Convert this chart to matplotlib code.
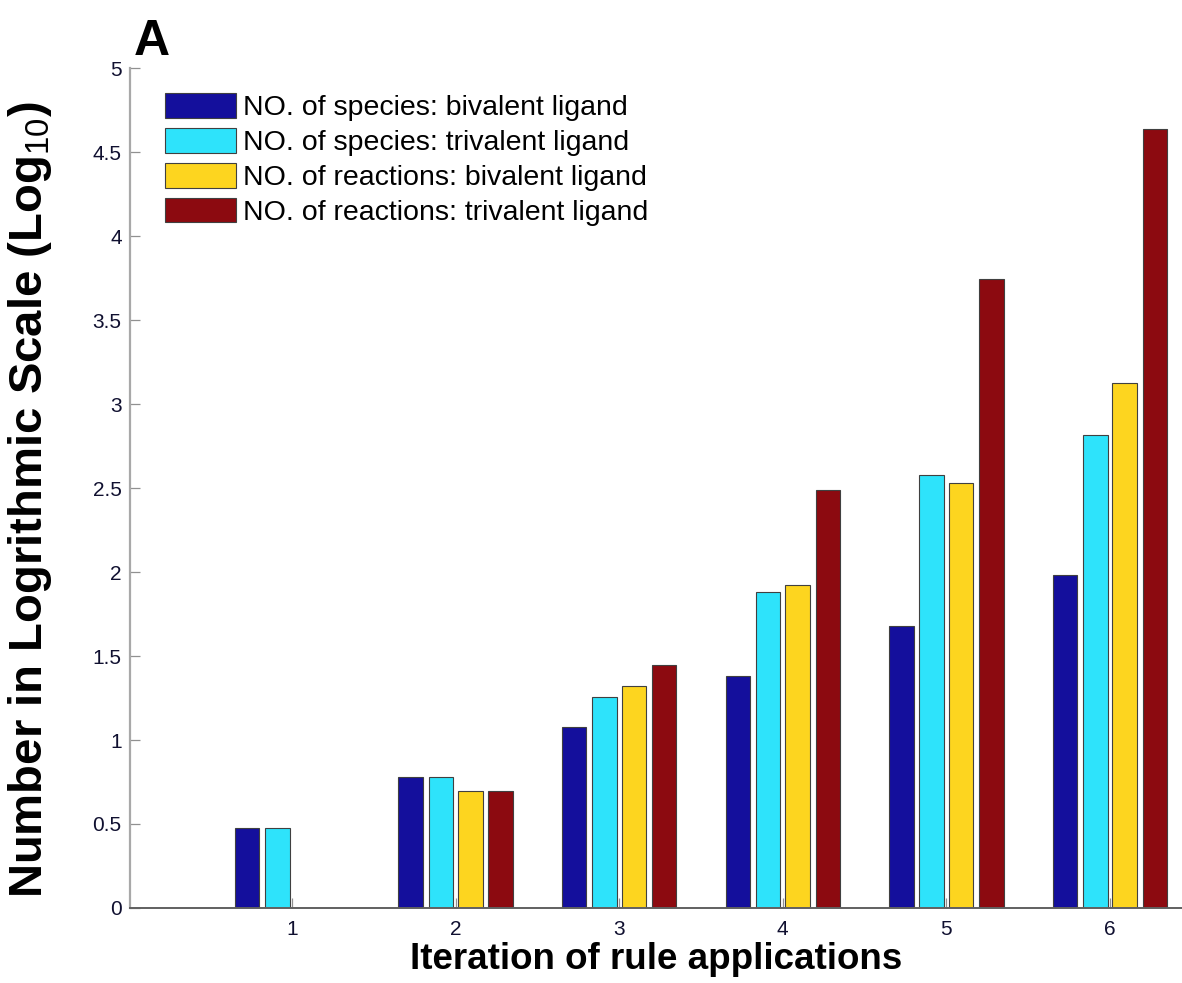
import numpy as np
import matplotlib.pyplot as plt

plt.rcParams['font.family'] = ['Liberation Sans', 'DejaVu Sans']
plt.rcParams['mathtext.fontset'] = 'custom'
plt.rcParams['mathtext.rm'] = 'Liberation Sans'
plt.rcParams['mathtext.bf'] = 'Liberation Sans:bold'

# data (log10 of counts)
iterations = [1, 2, 3, 4, 5, 6]
species_bi = [0.477, 0.778, 1.079, 1.380, 1.681, 1.982]
species_tri = [0.477, 0.778, 1.255, 1.881, 2.577, 2.815]
reactions_bi = [0.0, 0.699, 1.322, 1.924, 2.530, 3.126]
reactions_tri = [0.0, 0.699, 1.447, 2.489, 3.744, 4.636]

labels = ['NO. of species: bivalent ligand',
          'NO. of species: trivalent ligand',
          'NO. of reactions: bivalent ligand',
          'NO. of reactions: trivalent ligand']
colors = ['#140f9c', '#2ee3fb', '#fdd51f', '#8c0a10']

fig = plt.figure(figsize=(11.82, 9.83), dpi=100)
ax = fig.add_axes([0.110, 0.0763, 0.890, 0.8545])

x = np.array(iterations, dtype=float)
width = 0.15
offsets = [-0.275, -0.09, 0.09, 0.275]
series = [species_bi, species_tri, reactions_bi, reactions_tri]
for vals, off, col, lab in zip(series, offsets, colors, labels):
    ax.bar(x + off, vals, width, color=col, edgecolor='#404040',
           linewidth=0.8, label=lab)

ax.set_xlim(0.01, 6.44)
ax.set_ylim(0, 5)
ax.set_xticks(iterations)
ax.set_yticks(np.arange(0, 5.01, 0.5))
ax.set_yticklabels(['0', '0.5', '1', '1.5', '2', '2.5', '3', '3.5', '4', '4.5', '5'])
ax.tick_params(direction='in', length=7, width=0.9, color='#909090',
               labelsize=15, labelcolor='#101030')
ax.tick_params(axis='y', pad=6)
ax.tick_params(axis='x', pad=9)

for s in ['top', 'right']:
    ax.spines[s].set_visible(False)
ax.spines['left'].set_color('#a8a8a8')
ax.spines['left'].set_linewidth(1.6)
ax.spines['bottom'].set_color('#606060')
ax.spines['bottom'].set_linewidth(1.4)

ax.set_xlabel('Iteration of rule applications', fontsize=26.5, fontweight='bold',
              labelpad=2)
ax.set_ylabel('Number in Logrithmic Scale (Log$_{\\mathrm{10}}$)', fontsize=34,
              fontweight='bold')
ax.yaxis.set_label_coords(-0.072, 0.486)

ax.legend(loc='upper left', bbox_to_anchor=(0.033, 0.970), frameon=False,
          fontsize=20.5, handlelength=2.5, handleheight=0.95, labelspacing=0.24,
          handletextpad=0.25, borderpad=0, borderaxespad=0)

fig.text(0.113, 0.944, 'A', fontsize=36, fontweight='bold', ha='left', va='baseline')

fig.savefig('out.png', dpi=100)
